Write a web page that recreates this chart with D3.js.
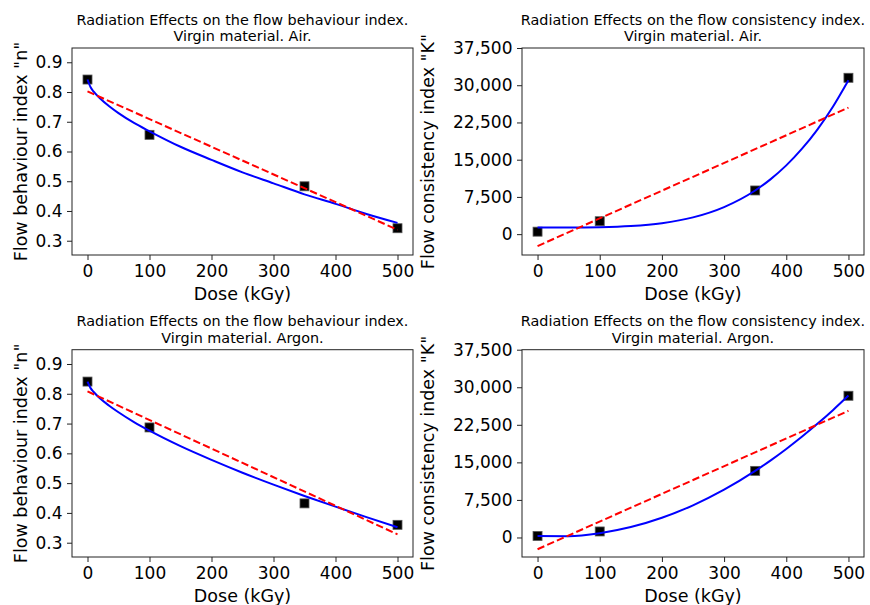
<!DOCTYPE html>
<html>
<head>
<meta charset="utf-8">
<script src="https://cdn.jsdelivr.net/npm/d3@7"></script>
<style>
  body { margin: 0; background: #fff; }
  svg text { font-family: "DejaVu Sans", sans-serif; fill: #000; }
</style>
</head>
<body>
<div id="chart"></div>
<script>
// measured doses (kGy)
var doses = [0, 100, 350, 500];

// flow behaviour index n
var nAir   = [0.842, 0.656, 0.483, 0.342];
var nArgon = [0.841, 0.687, 0.432, 0.360];

// flow consistency index K
var kAir   = [500, 2600, 8800, 31500];
var kArgon = [300, 1200, 13300, 28300];

// linear fits (red dashed), read at the two ends
var linDose    = [0, 500];
var nAirLin    = [0.802, 0.337];
var nArgonLin  = [0.808, 0.328];
var kAirLin    = [-2400, 25500];
var kArgonLin  = [-2350, 25300];

// non-linear fits (blue)
var nCurveDose  = [0, 5, 10, 20, 35, 50, 75, 100, 150, 200, 250, 300, 350, 400, 450, 500];
var nAirCurve   = [0.842, 0.816, 0.801, 0.779, 0.752, 0.729, 0.696, 0.668, 0.616, 0.572, 0.530, 0.493, 0.456, 0.424, 0.390, 0.360];
var nArgonCurve = [0.841, 0.819, 0.806, 0.785, 0.760, 0.738, 0.705, 0.676, 0.624, 0.578, 0.535, 0.495, 0.457, 0.421, 0.386, 0.352];

var kCurveDose  = [0, 50, 100, 150, 200, 250, 300, 350, 375, 400, 425, 450, 475, 500];
var kAirCurve   = [1350, 1350, 1410, 1630, 2200, 3380, 5460, 8800, 11090, 13850, 17160, 21070, 25660, 31000];
var kArgonCurve = [300, 263, 860, 2082, 3940, 6425, 9545, 13300, 15400, 17675, 20100, 22690, 25425, 28340];

// tick labels
var xTicks = [0, 100, 200, 300, 400, 500];
var nTicks = [0.3, 0.4, 0.5, 0.6, 0.7, 0.8, 0.9];
var kTicks = [0, 7500, 15000, 22500, 30000, 37500];

var titleN = "Radiation Effects on the flow behaviour index.";
var titleK = "Radiation Effects on the flow consistency index.";

var W = 870, H = 605;
var svg = d3.select("#chart").append("svg").attr("width", W).attr("height", H);

function zip(xs, ys) { return xs.map(function(x, i) { return [x, ys[i]]; }); }

var panels = [
  { left: 72,  right: 413, top: 48,    bottom: 255, ydom: [0.252, 0.948], yticks: nTicks, yfmt: d3.format(".1f"),
    title: [titleN, "Virgin material. Air."], ylabel: "Flow behaviour index \"n\"", ylabelX: 26.5,
    pts: zip(doses, nAir), lin: zip(linDose, nAirLin), fit: zip(nCurveDose, nAirCurve) },
  { left: 522, right: 864, top: 48,    bottom: 255, ydom: [-4200, 37500], yticks: kTicks, yfmt: d3.format(","),
    title: [titleK, "Virgin material. Air."], ylabel: "Flow consistency index \"K\"", ylabelX: 433.5,
    pts: zip(doses, kAir), lin: zip(linDose, kAirLin), fit: zip(kCurveDose, kAirCurve) },
  { left: 72,  right: 413, top: 349.7, bottom: 557, ydom: [0.252, 0.948], yticks: nTicks, yfmt: d3.format(".1f"),
    title: [titleN, "Virgin material. Argon."], ylabel: "Flow behaviour index \"n\"", ylabelX: 26.5,
    pts: zip(doses, nArgon), lin: zip(linDose, nArgonLin), fit: zip(nCurveDose, nArgonCurve) },
  { left: 522, right: 864, top: 349.7, bottom: 557, ydom: [-3900, 37500], yticks: kTicks, yfmt: d3.format(","),
    title: [titleK, "Virgin material. Argon."], ylabel: "Flow consistency index \"K\"", ylabelX: 433.5,
    pts: zip(doses, kArgon), lin: zip(linDose, kArgonLin), fit: zip(kCurveDose, kArgonCurve) }
];

panels.forEach(function(p) {
  var x = d3.scaleLinear().domain([-25, 525]).range([p.left, p.right]);
  var y = d3.scaleLinear().domain(p.ydom).range([p.bottom, p.top]);
  var cx = (p.left + p.right) / 2, cy = (p.top + p.bottom) / 2;

  // title, two lines
  svg.append("text").attr("x", cx).attr("y", p.top - 23.5).attr("text-anchor", "middle")
     .style("font-size", "14.4px").text(p.title[0]);
  svg.append("text").attr("x", cx).attr("y", p.top - 7).attr("text-anchor", "middle")
     .style("font-size", "14.4px").text(p.title[1]);

  // axes
  var gx = svg.append("g").attr("transform", "translate(0," + p.bottom + ")")
     .call(d3.axisBottom(x).tickValues(xTicks).tickSize(5).tickPadding(5));
  var gy = svg.append("g").attr("transform", "translate(" + p.left + ",0)")
     .call(d3.axisLeft(y).tickValues(p.yticks).tickFormat(p.yfmt).tickSize(5).tickPadding(4.5));
  [gx, gy].forEach(function(g) {
    g.select(".domain").remove();
    g.selectAll(".tick line").attr("stroke", "#222").attr("stroke-width", 1);
    g.selectAll(".tick text").style("font-size", "17px").style("font-family", "DejaVu Sans").attr("fill", "#000");
  });

  // axis labels
  svg.append("text").attr("x", cx).attr("y", p.bottom + 45).attr("text-anchor", "middle")
     .style("font-size", "17.5px").text("Dose (kGy)");
  svg.append("text").attr("transform", "translate(" + p.ylabelX + "," + cy + ") rotate(-90)")
     .attr("text-anchor", "middle").style("font-size", "17.5px").text(p.ylabel);

  // data markers
  svg.append("g").selectAll("rect").data(p.pts).enter().append("rect")
     .attr("x", function(d) { return x(d[0]) - 4.5; })
     .attr("y", function(d) { return y(d[1]) - 4.5; })
     .attr("width", 9).attr("height", 9)
     .attr("fill", "#000").attr("stroke", "#555").attr("stroke-width", 0.8);

  // fits
  var line = d3.line().x(function(d) { return x(d[0]); }).y(function(d) { return y(d[1]); });
  svg.append("path").datum(p.fit).attr("fill", "none").attr("stroke", "#0000ff").attr("stroke-width", 2)
     .attr("d", line.curve(d3.curveMonotoneX));
  svg.append("path").datum(p.lin).attr("fill", "none").attr("stroke", "#ff0000").attr("stroke-width", 2)
     .attr("stroke-dasharray", "7.4,3.2").attr("d", line.curve(d3.curveLinear));

  // frame
  svg.append("rect").attr("x", p.left).attr("y", p.top)
     .attr("width", p.right - p.left).attr("height", p.bottom - p.top)
     .attr("fill", "none").attr("stroke", "#222").attr("stroke-width", 1);
});
</script>
</body>
</html>
